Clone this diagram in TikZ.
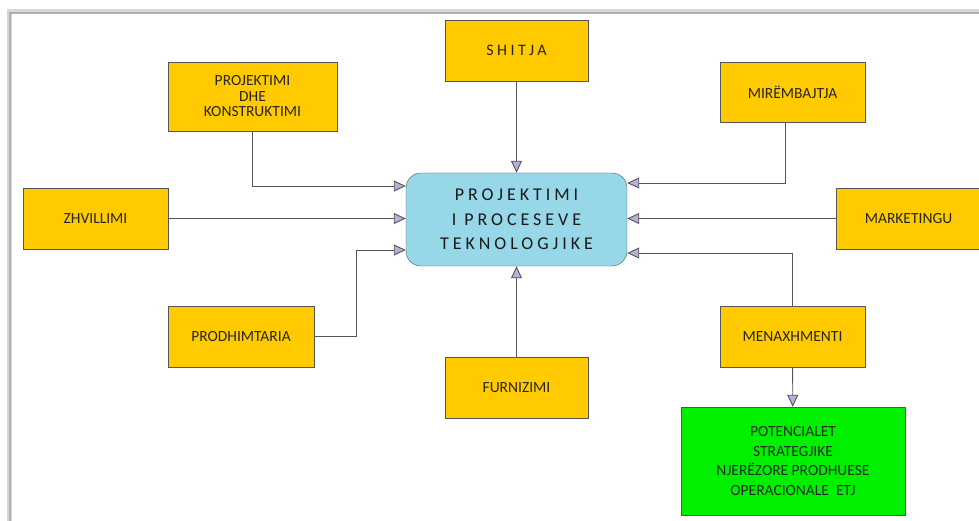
\documentclass[tikz,border=0pt]{standalone}
\usepackage{fontspec}
\setmainfont{Carlito}
\newfontfamily\spacedfont[LetterSpace=22]{Carlito}
\usepackage[]{xcolor}
\usetikzlibrary{arrows.meta}

\definecolor{boxyellow}{RGB}{255,202,0}
\definecolor{centerblue}{RGB}{150,215,232}
\definecolor{potgreen}{RGB}{0,240,0}
\definecolor{tipfill}{RGB}{184,174,222}
\definecolor{linegray}{RGB}{85,85,85}
\definecolor{framegray}{RGB}{175,175,175}

\begin{document}
\begin{tikzpicture}[
            x=1pt, y=-1pt,
            dept/.style={rectangle, draw=linegray, fill=boxyellow, minimum height=61pt, minimum width=145pt, align=center, text=black!85, font=\fontsize{15.5}{15.5}\selectfont},
            center/.style={rectangle, draw=linegray, fill=centerblue, rounded corners=15pt, minimum height=93pt, minimum width=221pt, align=center, text=black!90, font=\spacedfont\fontsize{18}{24.5}\selectfont},
            potential/.style={rectangle, draw=linegray, fill=potgreen, minimum height=108pt, minimum width=224pt, align=center, text=black!85, font=\fontsize{15.5}{19.5}\selectfont},
            arrow/.style={-{Triangle[length=12pt, width=11pt, fill=tipfill]}, draw=linegray, line width=0.9pt}
        ]
            \useasboundingbox (0,0) rectangle (979,521);
            % frame
            \draw[framegray!50, line width=5pt] (9,525) -- (9,12) -- (985,12);
            \draw[framegray, line width=2pt] (10,525) -- (10,13) -- (985,13);

            \node[center] (proj) at (516.5,219.5) {PROJEKTIMI\\I PROCESEVE\\TEKNOLOGJIKE};

            \node[dept, minimum width=143pt, font=\spacedfont\fontsize{16}{16}\selectfont] (shitja) at (516.5,50.5) {SHITJA};
            \node[dept, minimum width=169pt, minimum height=69pt] (konstr) at (252.5,96.5) {PROJEKTIMI\\DHE\\KONSTRUKTIMI};
            \node[dept, minimum height=60pt] (mirembajtja) at (792.5,92) {MIRËMBAJTJA};
            \node[dept] (zhvillimi) at (95.5,218.5) {ZHVILLIMI};
            \node[dept] (marketingu) at (908.5,218.5) {MARKETINGU};
            \node[dept, minimum width=146pt] (prodhimtaria) at (241,336.5) {PRODHIMTARIA};
            \node[dept, minimum width=143pt] (furnizimi) at (516.5,387.5) {FURNIZIMI};
            \node[dept] (menaxhmenti) at (792.5,336.5) {MENAXHMENTI};
            \node[potential] (potencialet) at (793,461) {POTENCIALET\\STRATEGJIKE\\NJERËZORE PRODHUESE\\OPERACIONALE\ \ ETJ};

            \draw[arrow] (shitja) -- (proj);
            \draw[arrow] (konstr.south) |- ([yshift=33.5pt]proj.west);
            \draw[arrow] (zhvillimi) -- (zhvillimi -| proj.west);
            \draw[arrow] (prodhimtaria.east) -- ++(42,0) |- ([yshift=-30.5pt]proj.west);
            \draw[arrow] (furnizimi) -- (proj);
            \draw[arrow] ([xshift=-7.5pt]mirembajtja.south) |- ([yshift=36.5pt]proj.east);
            \draw[arrow] (marketingu) -- (marketingu -| proj.east);
            \draw[arrow] (menaxhmenti.north) |- ([yshift=-33.5pt]proj.east);
            \draw[arrow] (menaxhmenti) -- (potencialet);
        \end{tikzpicture}
\end{document}
